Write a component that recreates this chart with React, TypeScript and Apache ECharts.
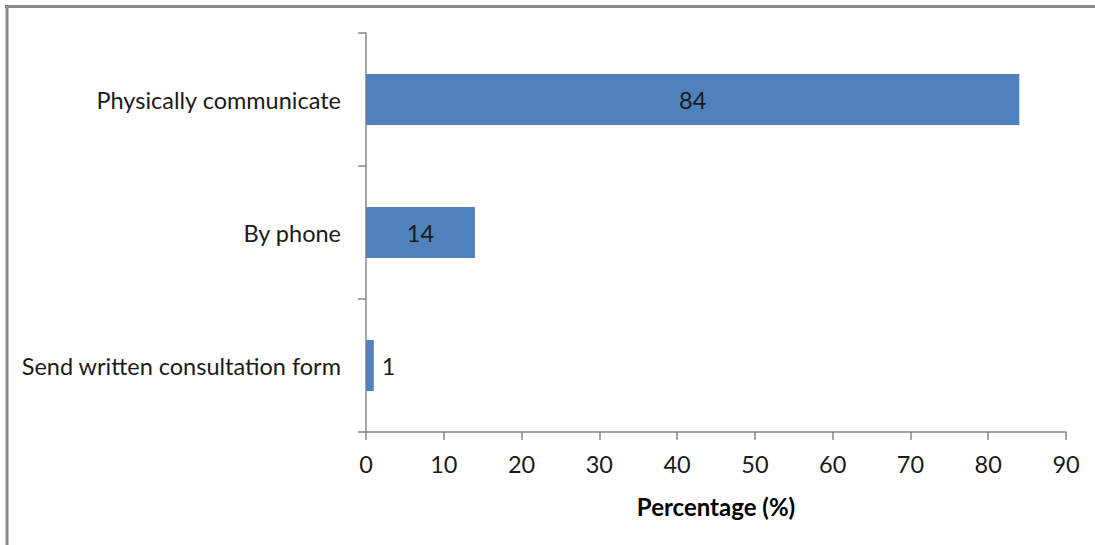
import React, { useEffect, useRef } from "react";
import * as echarts from "echarts";

const categories = ["Send written consultation form", "By phone", "Physically communicate"];
const values = [1, 14, 84];
const xTicks = [0, 10, 20, 30, 40, 50, 60, 70, 80, 90];
const xAxisTitle = "Percentage (%)";

export default function App() {
  const ref = useRef<HTMLDivElement>(null);
  useEffect(() => {
    if (!ref.current) return;
    const chart = echarts.init(ref.current, undefined, { renderer: "svg" });
    const font = "Lato, 'Open Sans', sans-serif";
    const fs = 23.5;
    chart.setOption({
      animation: false,
      backgroundColor: "#ffffff",
      textStyle: { fontFamily: font },
      grid: { left: 366, right: 29, top: 33, bottom: 113, containLabel: false },
      xAxis: {
        type: "value",
        min: xTicks[0],
        max: xTicks[xTicks.length - 1],
        interval: 10,
        splitLine: { show: false },
        axisLine: { show: true, lineStyle: { color: "#868686", width: 1.5 } },
        axisTick: { show: true, length: 8, lineStyle: { color: "#868686", width: 1.5 } },
        axisLabel: { color: "#1a1a1a", fontSize: fs, fontFamily: font, margin: 20 },
        name: xAxisTitle,
        nameLocation: "middle",
        nameGap: 62,
        nameTextStyle: { color: "#000", fontSize: 24, fontWeight: "bold", fontFamily: font },
      },
      yAxis: {
        type: "category",
        data: categories,
        axisLine: { show: true, lineStyle: { color: "#868686", width: 1.5 } },
        axisTick: { show: true, length: 8, alignWithLabel: false, lineStyle: { color: "#868686", width: 1.5 } },
        axisLabel: { color: "#1a1a1a", fontSize: fs, fontFamily: font, margin: 25 },
        splitLine: { show: false },
      },
      graphic: [
        { type: "line", shape: { x1: 5, y1: 6.5, x2: 1095, y2: 6.5 }, style: { stroke: "#8a8a8a", lineWidth: 3 } },
        { type: "line", shape: { x1: 7, y1: 5, x2: 7, y2: 545 }, style: { stroke: "#8a8a8a", lineWidth: 3 } },
      ],
      series: [
        {
          type: "bar",
          barWidth: 51,
          data: values.map((v) => ({
            value: v,
            label: {
              show: true,
              position: v < 5 ? "right" : "inside",
              distance: 8,
              color: "#1a1a1a",
              fontSize: fs,
              fontFamily: font,
            },
          })),
          itemStyle: { color: "#4F81BD" },
        },
      ],
    });
    return () => chart.dispose();
  }, []);
  return (
    <div
      ref={ref}
      style={{ position: "fixed", left: 0, top: 0, width: 1095, height: 545, background: "#fff" }}
    />
  );
}
